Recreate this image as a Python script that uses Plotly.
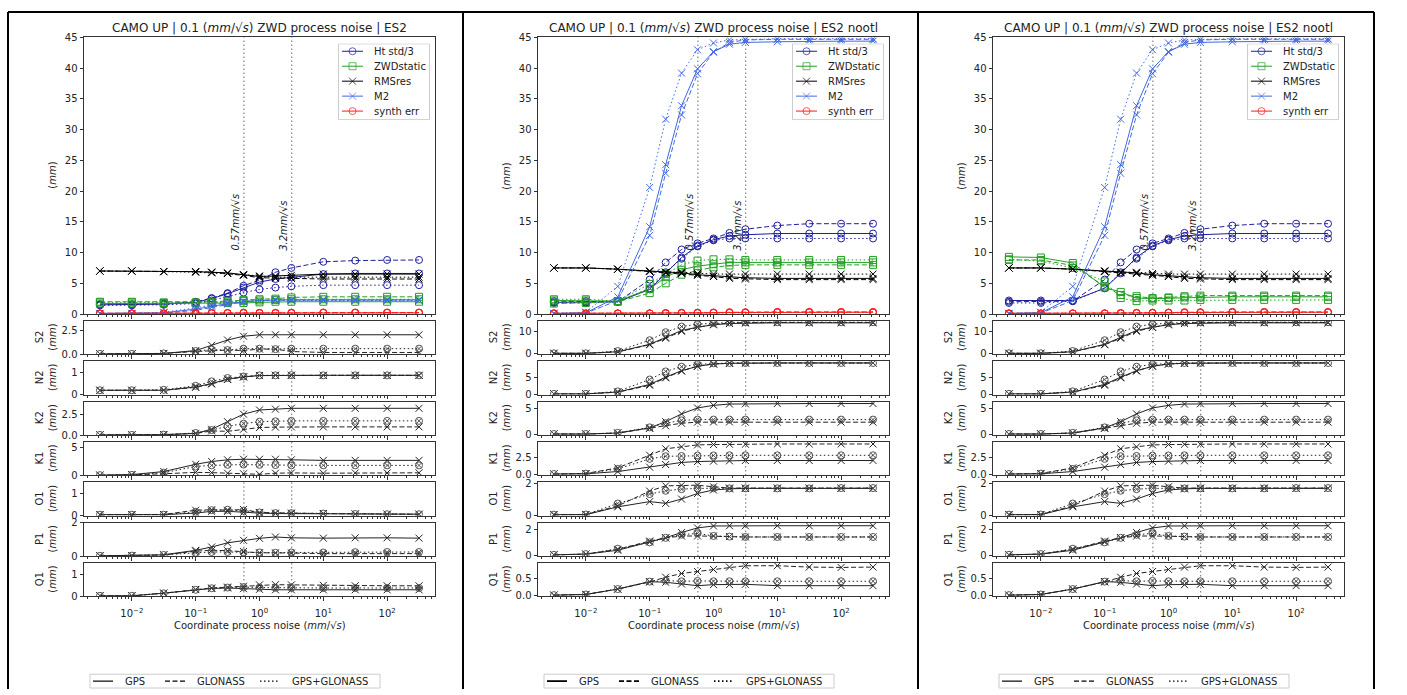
import math
import plotly.graph_objects as go

W, H = 1407, 695

# ---------------- data ----------------
NOISE = [0.00316, 0.01, 0.0316, 0.1, 0.178, 0.316, 0.562, 1.0, 1.78, 3.16, 10.0, 31.6, 100.0, 316.0]
CONSTELLATIONS = ["GPS", "GLONASS", "GPS+GLONASS"]
METRICS = ["Ht std/3", "ZWDstatic", "RMSres", "M2", "synth err"]
TIDES = ["S2", "N2", "K2", "K1", "O1", "P1", "Q1"]
TITLES = [
    "CAMO UP | 0.1 (<i>mm</i>/√<i>s</i>) ZWD process noise | ES2",
    "CAMO UP | 0.1 (<i>mm</i>/√<i>s</i>) ZWD process noise | ES2 nootl",
    "CAMO UP | 0.1 (<i>mm</i>/√<i>s</i>) ZWD process noise | ES2 nootl",
]
PROC_NOISE_MARKS = [0.57, 3.2]
PROC_NOISE_LABELS = ["0.57<i>mm</i>/√<i>s</i>", "3.2<i>mm</i>/√<i>s</i>"]
X_TICKS = [0.01, 0.1, 1, 10, 100]
X_TICKTEXT = ["10<sup>−2</sup>", "10<sup>−1</sup>", "10<sup>0</sup>", "10<sup>1</sup>", "10<sup>2</sup>"]
MAIN_YTICKS = [0, 5, 10, 15, 20, 25, 30, 35, 40, 45]
X_TITLE = "Coordinate process noise (<i>mm</i>/√<i>s</i>)"

# column 1 (ES2) main panel
C1_HT = {"GPS": [1.5, 1.5, 1.6, 1.9, 2.5, 3.3, 4.3, 5.2, 5.7, 6.0, 6.5, 6.6, 6.6, 6.6],
         "GLONASS": [1.6, 1.6, 1.7, 2.0, 2.6, 3.4, 4.6, 5.5, 6.8, 7.5, 8.5, 8.7, 8.8, 8.8],
         "GPS+GLONASS": [1.4, 1.4, 1.5, 1.7, 2.2, 2.8, 3.5, 4.0, 4.3, 4.5, 4.7, 4.7, 4.7, 4.7]}
C1_ZWD = {"GPS": [1.7, 1.7, 1.7, 1.8, 1.8, 1.8, 1.8, 1.9, 2.0, 2.0, 2.0, 2.0, 2.0, 2.0],
          "GLONASS": [2.0, 2.0, 1.9, 1.9, 2.0, 2.1, 2.3, 2.4, 2.5, 2.7, 2.8, 2.8, 2.8, 2.8],
          "GPS+GLONASS": [1.9, 1.9, 1.8, 1.8, 1.8, 1.9, 2.1, 2.2, 2.3, 2.4, 2.4, 2.4, 2.4, 2.4]}
C1_RMS = {"GPS": [7.0, 7.0, 6.9, 6.9, 6.8, 6.7, 6.4, 6.1, 6.2, 6.3, 6.5, 6.5, 6.5, 6.5],
          "GLONASS": [7.0, 7.0, 6.9, 6.9, 6.8, 6.6, 6.3, 5.9, 5.8, 5.8, 5.7, 5.7, 5.7, 5.7],
          "GPS+GLONASS": [7.0, 7.0, 6.9, 6.8, 6.7, 6.6, 6.4, 6.2, 6.0, 6.0, 6.0, 6.0, 6.0, 6.0]}
C1_M2 = {"GPS": [0.1, 0.1, 0.2, 0.8, 1.3, 1.7, 2.0, 2.2, 2.3, 2.3, 2.3, 2.3, 2.3, 2.3],
         "GLONASS": [0.1, 0.1, 0.15, 0.6, 1.1, 1.6, 2.0, 2.2, 2.3, 2.3, 2.3, 2.3, 2.3, 2.3],
         "GPS+GLONASS": [0.1, 0.1, 0.3, 1.0, 1.5, 1.9, 2.1, 2.2, 2.2, 2.2, 2.2, 2.2, 2.2, 2.2]}
C1_SYN = {"GPS": [0.1, 0.1, 0.1, 0.15, 0.15, 0.15, 0.2, 0.15, 0.15, 0.2, 0.2, 0.2, 0.2, 0.2],
          "GLONASS": [0.1, 0.1, 0.1, 0.1, 0.15, 0.15, 0.2, 0.2, 0.2, 0.2, 0.25, 0.25, 0.25, 0.25],
          "GPS+GLONASS": [0.1, 0.1, 0.1, 0.1, 0.1, 0.15, 0.15, 0.15, 0.15, 0.15, 0.2, 0.2, 0.2, 0.2]}

# column 2 (ES2 nootl) main panel
C2_HT = {"GPS": [1.9, 1.9, 2.0, 4.0, 6.6, 9.2, 11.1, 12.1, 12.7, 12.9, 13.1, 13.1, 13.1, 13.1],
         "GLONASS": [2.1, 2.1, 2.0, 5.6, 8.4, 10.5, 11.5, 12.3, 13.2, 13.8, 14.4, 14.7, 14.7, 14.7],
         "GPS+GLONASS": [1.8, 1.8, 2.0, 4.2, 6.8, 9.0, 11.0, 12.0, 12.3, 12.3, 12.3, 12.3, 12.3, 12.3]}
C2_ZWD = {"GPS": [2.2, 2.2, 2.1, 4.1, 6.0, 7.2, 7.8, 8.1, 8.4, 8.4, 8.4, 8.4, 8.4, 8.4],
          "GLONASS": [1.7, 1.8, 2.0, 3.4, 5.0, 6.4, 7.1, 7.6, 7.9, 8.0, 8.0, 8.0, 8.0, 8.0],
          "GPS+GLONASS": [2.4, 2.4, 2.1, 4.9, 6.5, 8.0, 8.7, 8.9, 8.9, 8.8, 8.8, 8.8, 8.8, 8.8]}
C2_RMS = {"GPS": [7.5, 7.5, 7.3, 7.0, 6.8, 6.7, 6.4, 6.2, 6.0, 5.9, 5.8, 5.8, 5.8, 5.8],
          "GLONASS": [7.5, 7.5, 7.3, 6.9, 6.7, 6.6, 6.3, 6.1, 5.8, 5.7, 5.6, 5.6, 5.6, 5.6],
          "GPS+GLONASS": [7.5, 7.5, 7.3, 7.0, 6.8, 6.8, 6.6, 6.5, 6.5, 6.5, 6.5, 6.5, 6.5, 6.5]}
C2_M2 = {"GPS": [0.1, 0.2, 2.8, 14.2, 24.3, 33.9, 39.9, 42.7, 43.9, 44.2, 44.3, 44.4, 44.4, 44.4],
         "GLONASS": [0.1, 0.15, 2.2, 12.8, 22.9, 32.4, 39.1, 42.6, 44.2, 44.6, 44.7, 44.7, 44.7, 44.7],
         "GPS+GLONASS": [0.1, 0.3, 4.5, 20.6, 31.7, 39.2, 43.0, 44.1, 44.6, 44.7, 44.8, 44.8, 44.8, 44.8]}
C2_SYN = {"GPS": [0.1, 0.1, 0.1, 0.1, 0.15, 0.15, 0.2, 0.2, 0.25, 0.25, 0.3, 0.3, 0.3, 0.3],
          "GLONASS": [0.1, 0.1, 0.1, 0.1, 0.15, 0.2, 0.2, 0.25, 0.3, 0.3, 0.35, 0.35, 0.35, 0.35],
          "GPS+GLONASS": [0.1, 0.1, 0.1, 0.1, 0.1, 0.15, 0.15, 0.2, 0.2, 0.2, 0.25, 0.25, 0.25, 0.25]}

# column 3 (ES2 nootl) main panel
C3_HT = {"GPS": [2.2, 2.2, 2.2, 4.2, 6.6, 9.2, 11.1, 12.1, 12.7, 12.9, 13.1, 13.1, 13.1, 13.1],
         "GLONASS": [2.0, 2.0, 2.1, 5.6, 8.4, 10.5, 11.5, 12.3, 13.2, 13.8, 14.4, 14.7, 14.7, 14.7],
         "GPS+GLONASS": [1.8, 1.8, 2.1, 4.2, 6.8, 9.0, 11.0, 12.0, 12.3, 12.3, 12.3, 12.3, 12.3, 12.3]}
C3_ZWD = {"GPS": [9.3, 9.2, 8.3, 4.3, 3.6, 2.6, 2.5, 2.6, 2.7, 2.7, 2.8, 2.8, 2.8, 2.8],
          "GLONASS": [8.8, 8.8, 7.9, 4.5, 3.1, 2.9, 2.6, 2.7, 2.9, 3.0, 3.0, 3.0, 3.0, 3.0],
          "GPS+GLONASS": [8.9, 8.6, 7.5, 5.3, 2.6, 2.1, 2.2, 2.2, 2.2, 2.3, 2.3, 2.3, 2.3, 2.3]}
C3_RMS = C2_RMS
C3_M2 = C2_M2
C3_SYN = C2_SYN

# column 1 tidal constituents
C1_S2 = {"GPS": [0.05, 0.05, 0.1, 0.4, 0.95, 1.5, 1.9, 2.05, 2.05, 2.05, 2.05, 2.05, 2.05, 2.05],
         "GLONASS": [0.05, 0.05, 0.1, 0.3, 0.4, 0.45, 0.4, 0.55, 0.55, 0.3, 0.2, 0.2, 0.2, 0.2],
         "GPS+GLONASS": [0.05, 0.05, 0.1, 0.35, 0.5, 0.45, 0.6, 0.6, 0.55, 0.6, 0.6, 0.6, 0.6, 0.6]}
C1_N2 = {"GPS": [0.2, 0.2, 0.2, 0.35, 0.5, 0.7, 0.8, 0.86, 0.87, 0.87, 0.87, 0.87, 0.87, 0.87],
         "GLONASS": [0.2, 0.2, 0.2, 0.33, 0.48, 0.68, 0.8, 0.86, 0.87, 0.87, 0.87, 0.87, 0.87, 0.87],
         "GPS+GLONASS": [0.2, 0.2, 0.22, 0.4, 0.6, 0.75, 0.82, 0.87, 0.87, 0.88, 0.87, 0.87, 0.87, 0.87]}
C1_K2 = {"GPS": [0.02, 0.02, 0.05, 0.2, 0.7, 1.6, 2.5, 3.0, 3.1, 3.2, 3.2, 3.2, 3.2, 3.2],
         "GLONASS": [0.02, 0.02, 0.05, 0.2, 0.5, 0.45, 0.7, 0.9, 0.95, 0.98, 0.98, 0.98, 0.98, 0.98],
         "GPS+GLONASS": [0.02, 0.02, 0.05, 0.25, 0.6, 1.05, 1.37, 1.6, 1.65, 1.7, 1.7, 1.7, 1.7, 1.7]}
C1_K1 = {"GPS": [0.05, 0.15, 0.7, 2.0, 2.5, 2.8, 2.9, 2.9, 2.9, 2.8, 2.7, 2.7, 2.7, 2.7],
         "GLONASS": [0.05, 0.1, 0.3, 0.55, 0.5, 0.4, 0.3, 0.2, 0.4, 0.45, 0.4, 0.45, 0.45, 0.47],
         "GPS+GLONASS": [0.05, 0.1, 0.5, 1.6, 1.8, 1.9, 1.95, 1.9, 1.85, 1.8, 1.8, 1.8, 1.8, 1.8]}
C1_O1 = {"GPS": [0.05, 0.05, 0.05, 0.12, 0.2, 0.2, 0.15, 0.12, 0.1, 0.1, 0.1, 0.08, 0.07, 0.07],
         "GLONASS": [0.05, 0.05, 0.06, 0.25, 0.27, 0.25, 0.28, 0.15, 0.12, 0.12, 0.1, 0.08, 0.07, 0.07],
         "GPS+GLONASS": [0.05, 0.05, 0.05, 0.18, 0.25, 0.27, 0.22, 0.15, 0.12, 0.12, 0.1, 0.08, 0.07, 0.07]}
C1_P1 = {"GPS": [0.02, 0.03, 0.08, 0.35, 0.55, 0.8, 0.95, 1.07, 1.15, 1.1, 1.08, 1.1, 1.1, 1.08],
         "GLONASS": [0.02, 0.03, 0.07, 0.3, 0.35, 0.33, 0.28, 0.2, 0.2, 0.18, 0.15, 0.15, 0.15, 0.15],
         "GPS+GLONASS": [0.02, 0.03, 0.07, 0.2, 0.25, 0.25, 0.22, 0.22, 0.2, 0.22, 0.22, 0.24, 0.25, 0.25]}
C1_Q1 = {"GPS": [0.03, 0.03, 0.15, 0.31, 0.36, 0.38, 0.35, 0.32, 0.3, 0.3, 0.3, 0.3, 0.3, 0.3],
         "GLONASS": [0.03, 0.03, 0.15, 0.31, 0.38, 0.42, 0.46, 0.52, 0.53, 0.52, 0.5, 0.48, 0.48, 0.48],
         "GPS+GLONASS": [0.03, 0.03, 0.14, 0.3, 0.37, 0.4, 0.42, 0.4, 0.39, 0.39, 0.38, 0.38, 0.38, 0.38]}

# columns 2 and 3 tidal constituents (identical in the figure)
C2_S2 = {"GPS": [0.05, 0.05, 0.76, 4.2, 7.4, 10.6, 12.1, 13.2, 13.8, 14.0, 14.1, 14.1, 14.1, 14.1],
         "GLONASS": [0.05, 0.05, 0.7, 4.0, 7.0, 10.2, 12.0, 13.5, 14.0, 14.3, 14.3, 14.3, 14.3, 14.3],
         "GPS+GLONASS": [0.05, 0.05, 1.1, 6.1, 9.8, 12.4, 13.5, 14.0, 14.3, 14.4, 14.4, 14.4, 14.4, 14.4]}
C2_N2 = {"GPS": [0.05, 0.05, 0.6, 2.85, 5.0, 6.9, 8.2, 8.9, 9.1, 9.2, 9.2, 9.2, 9.2, 9.2],
         "GLONASS": [0.05, 0.05, 0.55, 2.6, 4.8, 6.8, 8.3, 8.9, 9.1, 9.2, 9.2, 9.2, 9.2, 9.2],
         "GPS+GLONASS": [0.05, 0.05, 0.8, 4.3, 6.7, 8.1, 8.8, 9.1, 9.2, 9.2, 9.2, 9.2, 9.2, 9.2]}
C2_K2 = {"GPS": [0.02, 0.02, 0.2, 1.2, 2.4, 3.9, 5.05, 5.55, 5.8, 5.85, 5.9, 5.9, 5.9, 5.9],
         "GLONASS": [0.02, 0.02, 0.2, 1.1, 1.6, 2.1, 2.3, 2.35, 2.35, 2.3, 2.3, 2.3, 2.3, 2.3],
         "GPS+GLONASS": [0.02, 0.02, 0.25, 1.3, 2.1, 2.65, 2.8, 2.8, 2.8, 2.8, 2.8, 2.8, 2.8, 2.8]}
C2_K1 = {"GPS": [0.02, 0.05, 0.4, 1.07, 1.48, 1.8, 1.94, 2.0, 2.05, 2.1, 2.1, 2.1, 2.1, 2.1],
         "GLONASS": [0.02, 0.1, 0.97, 2.9, 3.9, 4.2, 4.5, 4.55, 4.6, 4.6, 4.64, 4.64, 4.64, 4.64],
         "GPS+GLONASS": [0.02, 0.08, 0.8, 2.35, 2.75, 2.8, 2.86, 2.88, 2.9, 2.9, 2.9, 2.9, 2.9, 2.9]}
C2_O1 = {"GPS": [0.05, 0.05, 0.54, 0.87, 0.76, 1.03, 1.38, 1.6, 1.67, 1.7, 1.7, 1.7, 1.7, 1.7],
         "GLONASS": [0.05, 0.06, 0.6, 1.53, 1.86, 1.9, 1.9, 1.8, 1.72, 1.72, 1.72, 1.72, 1.72, 1.72],
         "GPS+GLONASS": [0.05, 0.06, 0.75, 1.34, 1.55, 1.65, 1.7, 1.7, 1.7, 1.7, 1.7, 1.7, 1.72, 1.72]}
C2_P1 = {"GPS": [0.02, 0.08, 0.38, 1.03, 1.36, 1.77, 2.13, 2.28, 2.3, 2.3, 2.3, 2.3, 2.3, 2.3],
         "GLONASS": [0.02, 0.08, 0.45, 1.1, 1.35, 1.49, 1.5, 1.5, 1.45, 1.42, 1.42, 1.42, 1.42, 1.42],
         "GPS+GLONASS": [0.02, 0.08, 0.5, 1.0, 1.35, 1.6, 1.7, 1.5, 1.45, 1.42, 1.42, 1.42, 1.42, 1.42]}
C2_Q1 = {"GPS": [0.02, 0.04, 0.2, 0.42, 0.4, 0.35, 0.3, 0.33, 0.33, 0.34, 0.3, 0.3, 0.3, 0.3],
         "GLONASS": [0.02, 0.04, 0.2, 0.41, 0.55, 0.66, 0.72, 0.78, 0.85, 0.89, 0.89, 0.85, 0.84, 0.85],
         "GPS+GLONASS": [0.02, 0.04, 0.2, 0.42, 0.45, 0.43, 0.44, 0.43, 0.43, 0.43, 0.43, 0.43, 0.43, 0.43]}

# tidal panel y ranges and tick labels
C1_TIDE_RANGE = [[0, 3.5], [0, 1.5], [0, 4.0], [0, 6.0], [0, 1.5], [0, 2.01], [0, 1.5]]
C1_TIDE_TICKS = [[0, 2.5], [0, 1], [0, 2.5], [0, 5], [0, 1], [0, 2], [0, 1]]
C1_TIDE_TICKTEXT = [["0.0", "2.5"], ["0", "1"], ["0.0", "2.5"], ["0", "5"], ["0", "1"], ["0", "2"], ["0", "1"]]
C2_TIDE_RANGE = [[-0.45, 15.0], [-0.2, 9.7], [-0.19, 6.27], [-0.2, 4.95], [-0.02, 2.08], [-0.08, 2.54], [-0.02, 0.97]]
C2_TIDE_TICKS = [[0, 10], [0, 5], [0, 5], [0, 2.5], [0, 2], [0, 2], [0, 0.5]]
C2_TIDE_TICKTEXT = [["0", "10"], ["0", "5"], ["0", "5"], ["0.0", "2.5"], ["0", "2"], ["0", "2"], ["0.0", "0.5"]]

COLUMNS = [
    dict(main=[C1_HT, C1_ZWD, C1_RMS, C1_M2, C1_SYN],
         tides=[C1_S2, C1_N2, C1_K2, C1_K1, C1_O1, C1_P1, C1_Q1],
         rng=C1_TIDE_RANGE, ticks=C1_TIDE_TICKS, ticktext=C1_TIDE_TICKTEXT),
    dict(main=[C2_HT, C2_ZWD, C2_RMS, C2_M2, C2_SYN],
         tides=[C2_S2, C2_N2, C2_K2, C2_K1, C2_O1, C2_P1, C2_Q1],
         rng=C2_TIDE_RANGE, ticks=C2_TIDE_TICKS, ticktext=C2_TIDE_TICKTEXT),
    dict(main=[C3_HT, C3_ZWD, C3_RMS, C3_M2, C3_SYN],
         tides=[C2_S2, C2_N2, C2_K2, C2_K1, C2_O1, C2_P1, C2_Q1],
         rng=C2_TIDE_RANGE, ticks=C2_TIDE_TICKS, ticktext=C2_TIDE_TICKTEXT),
]

# ---------------- styling ----------------
FONT = "DejaVu Sans"
TXT = "#222222"
AXC = "#333333"
DASH = {"GPS": "solid", "GLONASS": "5px,2.5px", "GPS+GLONASS": "1.5px,2.5px"}
METRIC_STYLE = [
    dict(color="#1f1f9c", symbol="circle-open"),
    dict(color="#22a022", symbol="square-open"),
    dict(color="#000000", symbol="x-thin-open"),
    dict(color="#4169e1", symbol="x-thin-open"),
    dict(color="#ff1a1a", symbol="circle-open"),
]

COL_X = [(84, 435), (538, 889), (993, 1344)]
MAIN_Y = (33, 314)
TIDE_TOPS = [321, 362, 403, 444, 485, 526, 567]
TIDE_H = 34
XRANGE = [-2.75, 2.75]
# main legend box (px offsets from plot right edge / absolute y)
LEG_W, LEG_TOP, LEG_BOT, LEG_RIGHT_GAP = 92, 39, 117, 5
LEG_ROW0, LEG_ROW_STEP = 8, 15.2
# bottom constellation legend (px offsets from plot left edge)
BL_BOX = (6, 296, 680, 694)
BL_SAMPLES = [(9, 29, 39), (81, 101, 111), (176, 196, 206)]
BL_WIDTH = [1.2, 1.8, 1.2]


def px(x):
    return x / W


def py(y):
    return 1 - y / H


minor_vals = []
for e in range(-3, 3):
    for m in range(2, 10):
        v = m * 10 ** e
        if XRANGE[0] < math.log10(v) < XRANGE[1]:
            minor_vals.append(v)

fig = go.Figure()
layout = {}
annotations = []
shapes = []

for c, col in enumerate(COLUMNS):
    x0, x1 = COL_X[c]
    for p in range(8):
        idx = c * 8 + p + 1
        xa = "x" if idx == 1 else f"x{idx}"
        ya = "y" if idx == 1 else f"y{idx}"
        if p == 0:
            top, bot = MAIN_Y
            yr = [0, 45]
            yt, ytt = MAIN_YTICKS, [str(v) for v in MAIN_YTICKS]
        else:
            top = TIDE_TOPS[p - 1]
            bot = top + TIDE_H
            yr = col["rng"][p - 1]
            yt, ytt = col["ticks"][p - 1], col["ticktext"][p - 1]
        last = (p == 7)
        layout["xaxis" if idx == 1 else f"xaxis{idx}"] = dict(
            type="log", range=XRANGE, domain=[px(x0), px(x1)], anchor=ya,
            showline=True, mirror=True, linecolor=AXC, linewidth=1,
            ticks="outside", ticklen=3.5, tickwidth=1, tickcolor=AXC,
            tickmode="array", tickvals=X_TICKS, ticktext=X_TICKTEXT,
            showticklabels=last, tickfont=dict(family=FONT, size=10, color=TXT),
            ticklabelstandoff=4,
            minor=dict(tickmode="array", tickvals=minor_vals, ticks="outside", ticklen=2,
                       tickwidth=0.8, tickcolor=AXC, showgrid=False),
            showgrid=False, zeroline=False,
        )
        layout["yaxis" if idx == 1 else f"yaxis{idx}"] = dict(
            range=yr, domain=[py(bot), py(top)], anchor=xa,
            showline=True, mirror=True, linecolor=AXC, linewidth=1,
            ticks="outside", ticklen=3.5, tickwidth=1, tickcolor=AXC,
            tickmode="array", tickvals=yt, ticktext=ytt,
            tickfont=dict(family=FONT, size=10, color=TXT),
            showgrid=False, zeroline=False,
        )
        for v in PROC_NOISE_MARKS:
            shapes.append(dict(type="line", xref=xa, yref=f"{ya} domain", x0=v, x1=v, y0=0, y1=1,
                               line=dict(color="#6a6a6a", width=1, dash="1.5px,2.5px"), layer="below"))
        if p == 0:
            for m, name in enumerate(METRICS):
                st = METRIC_STYLE[m]
                for k in CONSTELLATIONS:
                    fig.add_trace(go.Scatter(
                        x=NOISE, y=col["main"][m][k], xaxis=xa, yaxis=ya, mode="lines+markers",
                        name=f"{name} {k}", showlegend=False,
                        line=dict(color=st["color"], width=1, dash=DASH[k]),
                        marker=dict(symbol=st["symbol"], size=7, color=st["color"],
                                    line=dict(width=1, color=st["color"])),
                    ))
            for v, lab in zip(PROC_NOISE_MARKS, PROC_NOISE_LABELS):
                annotations.append(dict(
                    x=math.log10(v), y=10, xref=xa, yref=ya, text=lab, showarrow=False,
                    textangle=-90, xanchor="right", yanchor="bottom", xshift=-1,
                    font=dict(family=FONT, size=10, color=TXT, style="italic"),
                ))
            annotations.append(dict(
                x=px((x0 + x1) / 2), y=py(23), xref="paper", yref="paper", text=TITLES[c],
                showarrow=False, xanchor="center", yanchor="middle",
                font=dict(family=FONT, size=12, color=TXT),
            ))
            annotations.append(dict(
                x=px(x0 - 31), y=py((top + bot) / 2), xref="paper", yref="paper",
                text="(<i>mm</i>)", showarrow=False, textangle=-90,
                xanchor="center", yanchor="middle",
                font=dict(family=FONT, size=10, color=TXT),
            ))
        else:
            tide = col["tides"][p - 1]
            for k in CONSTELLATIONS:
                dotted = (k == "GPS+GLONASS")
                mc = "#555555" if dotted else "#222222"
                fig.add_trace(go.Scatter(
                    x=NOISE, y=tide[k], xaxis=xa, yaxis=ya, mode="lines+markers",
                    name=f"{TIDES[p - 1]} {k}", showlegend=False,
                    line=dict(color="#222222", width=1, dash=DASH[k]),
                    marker=dict(symbol="circle-x-open" if dotted else "x-thin-open", size=7,
                                color=mc, line=dict(width=1, color=mc)),
                ))
            annotations.append(dict(
                x=px(x0 - 38), y=py((top + bot) / 2), xref="paper", yref="paper",
                text=f"{TIDES[p - 1]}<br>(<i>mm</i>)", showarrow=False, textangle=-90,
                xanchor="center", yanchor="middle",
                font=dict(family=FONT, size=10, color=TXT),
            ))
    annotations.append(dict(
        x=px((x0 + x1) / 2), y=py(630), xref="paper", yref="paper", text=X_TITLE,
        showarrow=False, xanchor="center", yanchor="middle",
        font=dict(family=FONT, size=10, color=TXT),
    ))

    # ---- main-panel legend, drawn on its own overlay axes (pixel units) ----
    li = 25 + c
    lxa, lya = f"x{li}", f"y{li}"
    lh = LEG_BOT - LEG_TOP
    layout[f"xaxis{li}"] = dict(domain=[px(x1 - LEG_RIGHT_GAP - LEG_W), px(x1 - LEG_RIGHT_GAP)],
                                range=[0, LEG_W], visible=False, anchor=lya, fixedrange=True)
    layout[f"yaxis{li}"] = dict(domain=[py(LEG_BOT), py(LEG_TOP)], range=[lh, 0],
                                visible=False, anchor=lxa, fixedrange=True)
    fig.add_trace(go.Scatter(
        x=[0.5, LEG_W - 0.5, LEG_W - 0.5, 0.5, 0.5], y=[0.5, 0.5, lh - 0.5, lh - 0.5, 0.5],
        xaxis=lxa, yaxis=lya, mode="lines", fill="toself", fillcolor="rgba(255,255,255,0.85)",
        line=dict(color="#cccccc", width=1), showlegend=False, hoverinfo="skip",
    ))
    for m, name in enumerate(METRICS):
        st = METRIC_STYLE[m]
        ry = LEG_ROW0 + m * LEG_ROW_STEP
        fig.add_trace(go.Scatter(
            x=[4, 14.5, 25], y=[ry, ry, ry], xaxis=lxa, yaxis=lya, mode="lines+markers",
            line=dict(color=st["color"], width=1),
            marker=dict(symbol=st["symbol"], size=[0, 7, 0], color=st["color"],
                        line=dict(width=1, color=st["color"])),
            showlegend=False, hoverinfo="skip",
        ))
        annotations.append(dict(
            x=34, y=ry, xref=lxa, yref=lya, text=name, showarrow=False,
            xanchor="left", yanchor="middle", font=dict(family=FONT, size=10, color=TXT),
        ))

    # ---- bottom constellation legend (line styles) ----
    bx0, bx1, by0, by1 = BL_BOX
    shapes.append(dict(type="rect", xref="paper", yref="paper",
                       x0=px(x0 + bx0), x1=px(x0 + bx1), y0=py(by1), y1=py(by0),
                       line=dict(color="#cccccc", width=1), fillcolor="white"))
    yc = (by0 + by1) / 2
    for (s0, s1, tx), k in zip(BL_SAMPLES, CONSTELLATIONS):
        shapes.append(dict(type="line", xref="paper", yref="paper",
                           x0=px(x0 + s0), x1=px(x0 + s1), y0=py(yc), y1=py(yc),
                           line=dict(color="black", width=BL_WIDTH[c], dash=DASH[k])))
        annotations.append(dict(
            x=px(x0 + tx), y=py(yc), xref="paper", yref="paper", text=k, showarrow=False,
            xanchor="left", yanchor="middle", font=dict(family=FONT, size=10, color=TXT),
        ))

# cell borders of the original composite image
for xb in [8, 463, 918, 1374]:
    shapes.append(dict(type="line", xref="paper", yref="paper", x0=px(xb), x1=px(xb),
                       y0=py(7), y1=py(H), line=dict(color="black", width=2)))
shapes.append(dict(type="line", xref="paper", yref="paper", x0=px(8), x1=px(1374),
                   y0=py(7), y1=py(7), line=dict(color="black", width=2)))

fig.update_layout(
    width=W, height=H, margin=dict(l=0, r=0, t=0, b=0),
    paper_bgcolor="white", plot_bgcolor="white", showlegend=False,
    font=dict(family=FONT, size=10, color=TXT),
    annotations=annotations, shapes=shapes, **layout,
)

fig.write_html("out.html", config={"displayModeBar": False},
               post_script="document.body.style.margin='0px';")
